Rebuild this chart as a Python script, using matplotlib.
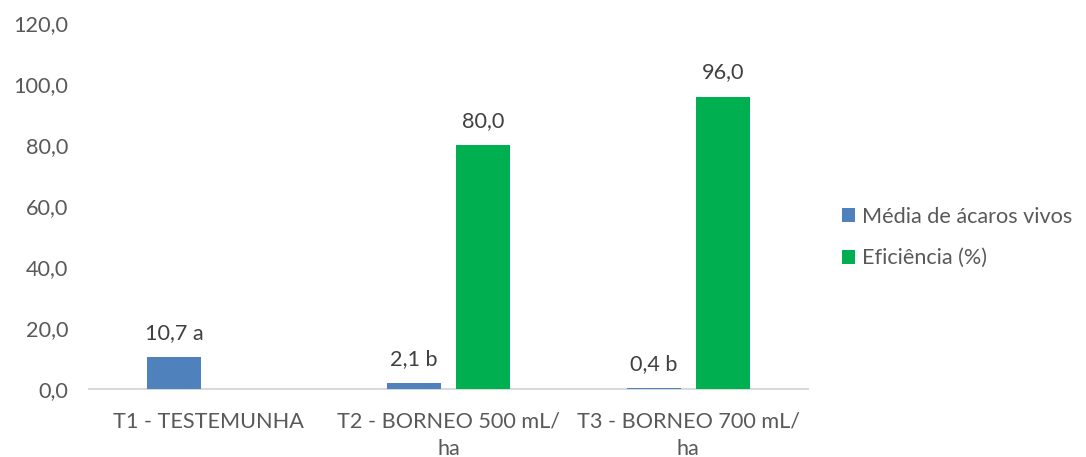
import matplotlib
matplotlib.use("Agg")
import matplotlib.pyplot as plt
import numpy as np

categories = ["T1 - TESTEMUNHA", "T2 - BORNEO 500 mL/\nha", "T3 - BORNEO 700 mL/\nha"]
media_vivos = [10.7, 2.1, 0.4]
eficiencia = [0.0, 80.0, 96.0]
media_labels = ["10,7 a", "2,1 b", "0,4 b"]
eficiencia_labels = ["", "80,0", "96,0"]
series_names = ["Média de ácaros vivos", "Eficiência (%)"]
yticks = [0, 20, 40, 60, 80, 100, 120]

BLUE = "#4F81BD"
GREEN = "#00B050"
TXT = "#595959"
FS = 15.6

plt.rcParams['font.family'] = ['Lato', 'DejaVu Sans']

fig = plt.figure(figsize=(10.86, 4.57), dpi=100)
ax = fig.add_axes([89/1086, 1 - 389.3/457, (808-89)/1086, (389.3-23.3)/457])

x = np.arange(len(categories))
w = 0.225
gap = 0.0626
off = (w + gap) / 2
b1 = ax.bar(x - off, media_vivos, width=w, color=BLUE, label=series_names[0], zorder=3)
b2 = ax.bar(x + off, eficiencia, width=w, color=GREEN, label=series_names[1], zorder=3)

for xi, v, lab in zip(x - off, media_vivos, media_labels):
    if lab:
        ax.annotate(lab, (xi, v), xytext=(0, 13), textcoords="offset points",
                    ha="center", va="baseline", fontsize=FS, color="#404040")
for xi, v, lab in zip(x + off, eficiencia, eficiencia_labels):
    if lab:
        ax.annotate(lab, (xi, v), xytext=(0, 13), textcoords="offset points",
                    ha="center", va="baseline", fontsize=FS, color="#404040")

ax.set_xlim(-0.5, len(categories) - 0.5)
ax.set_ylim(0, 120)
ax.set_yticks(yticks)
ax.set_yticklabels([f"{t:.1f}".replace(".", ",") for t in yticks])
ax.set_xticks(x)
ax.set_xticklabels(categories, linespacing=1.45)
ax.tick_params(axis="y", length=0, pad=15, labelsize=FS, labelcolor=TXT)
ax.tick_params(axis="x", length=0, pad=16, labelsize=FS, labelcolor=TXT)

for s in ["top", "right", "left"]:
    ax.spines[s].set_visible(False)
ax.spines["bottom"].set_color("#D9D9D9")
ax.spines["bottom"].set_linewidth(1.5)
ax.spines["bottom"].set_zorder(2)

leg = fig.legend(handles=[b1, b2], labels=series_names, loc="center left",
                 bbox_to_anchor=(841.7/1086, 1 - 237.5/457), frameon=False,
                 fontsize=FS, handlelength=0.6, handleheight=0.6,
                 handletextpad=0.35, labelspacing=1.0, borderpad=0, borderaxespad=0)
for t in leg.get_texts():
    t.set_color(TXT)

fig.savefig("out.png", dpi=100)
